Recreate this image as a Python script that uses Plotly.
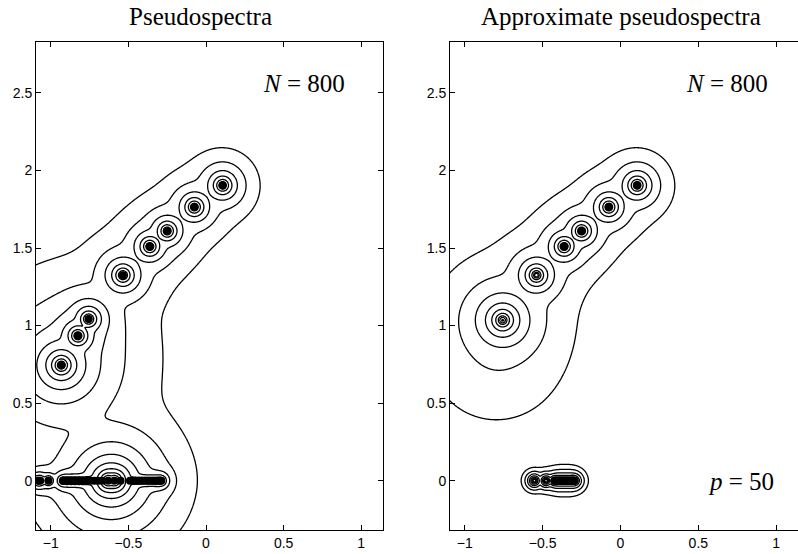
import numpy as np
import plotly.graph_objects as go

# ---------------- data ----------------
# Left panel: eigenvalues of the N=800 matrix (position, conditioning weight, decay power)
upper_re = [0.107, -0.075, -0.250, -0.362, -0.535]
upper_im = [1.904, 1.764, 1.610, 1.510, 1.325]
upper_kappa = [0.95, 0.97, 1.0, 1.0, 1.15]

group_re = [-0.756, -0.825, -0.932]
group_im = [1.042, 0.934, 0.745]
group_kappa = [1.3, 1.6, 2.5]

real_left = [-1.082, -1.068, -1.015,
             -0.920, -0.895, -0.870, -0.845, -0.820, -0.795, -0.770, -0.745, -0.720, -0.695,
             -0.670, -0.630, -0.590, -0.550,
             -0.490, -0.470, -0.452, -0.434, -0.416, -0.398, -0.380, -0.362, -0.345,
             -0.328, -0.312, -0.298, -0.288]
real_left_kappa = [0.5, 0.5, 0.5,
                   0.6, 0.6, 0.6, 0.6, 0.6, 0.6, 0.6, 0.6, 0.6, 0.6,
                   0.6, 1.7, 1.7, 0.6,
                   0.5, 0.5, 0.5, 0.5, 0.5, 0.5, 0.5, 0.5, 0.5,
                   0.5, 0.5, 0.5, 0.5]
real_left_power = [1.0, 1.0, 1.0,
                   1.0, 1.0, 1.0, 1.0, 1.0, 1.0, 1.0, 1.0, 1.0, 1.0,
                   1.0, 1.2, 1.2, 1.0,
                   1.0, 1.0, 1.0, 1.0, 1.0, 1.0, 1.0, 1.0, 1.0,
                   1.0, 1.0, 1.0, 1.0]

# Right panel: Ritz values (p = 50)
ritz_upper_re = [0.107, -0.075, -0.250, -0.362, -0.540]
ritz_upper_im = [1.904, 1.764, 1.610, 1.510, 1.325]
ritz_upper_kappa = [0.95, 0.97, 1.0, 1.0, 1.15]
ritz_upper_dot = [True, True, True, True, False]

ritz_group_re = [-0.757]
ritz_group_im = [1.035]
ritz_group_kappa = [1.75]

ritz_real = [-0.553, -0.478, -0.424, -0.410, -0.395, -0.380, -0.365, -0.350,
             -0.335, -0.320, -0.305, -0.296]
ritz_real_kappa = [0.125] * 12
ritz_real_power = [1.4] * 12
ritz_real_dot = [False, False, True, True, True, True, True, True,
                 True, True, True, True]

# soft (core-less) halo of the approximate resolvent below the isolated Ritz value
halo_re = [-0.80]
halo_im = [0.80]
halo_strength = [2.1]
halo_core = [0.35]

# contour levels: log10(epsilon)
level_start, level_end, level_step = -2.0, -0.6, 0.2

x_ticks = [-1, -0.5, 0, 0.5, 1]
x_ticktext = ["\u22121", "\u22120.5", "0", "0.5", "1"]
y_ticks = [0, 0.5, 1, 1.5, 2, 2.5]
y_ticktext = ["0", "0.5", "1", "1.5", "2", "2.5"]

titles = ["Pseudospectra", "Approximate pseudospectra"]

# ---------------- computation ----------------
XR = [-1.095, 1.14]
YR = [-0.318, 2.828]
xs = np.linspace(-1.12, 1.16, 640)
ys = np.linspace(-0.34, 2.85, 900)
X, Y = np.meshgrid(xs, ys)
Q_BETWEEN = 6.0


def cluster(res, ims, kappas, powers, q):
    acc = np.zeros_like(X)
    for r, i, k, a in zip(res, ims, kappas, powers):
        d = np.maximum(np.hypot(X - r, Y - i), 1e-5)
        acc += (k / d ** a) ** q
    return acc ** (1.0 / q)


def halo(res, ims, strengths, cores):
    acc = np.zeros_like(X)
    for r, i, v, s in zip(res, ims, strengths, cores):
        d = np.sqrt((X - r) ** 2 + (Y - i) ** 2 + s * s)
        acc += (v / d) ** Q_BETWEEN
    return acc ** (1.0 / Q_BETWEEN)


def combine(parts):
    acc = np.zeros_like(X)
    for p in parts:
        acc += p ** Q_BETWEEN
    return -np.log10(acc ** (1.0 / Q_BETWEEN))


L_left = combine([
    cluster(upper_re, upper_im, upper_kappa, [1.0] * len(upper_re), 5.0),
    cluster(group_re, group_im, group_kappa, [1.0] * len(group_re), 6.0),
    cluster(real_left, [0.0] * len(real_left), real_left_kappa, real_left_power, 6.0),
])
L_right = combine([
    cluster(ritz_upper_re, ritz_upper_im, ritz_upper_kappa, [1.0] * len(ritz_upper_re), 5.0),
    cluster(ritz_group_re, ritz_group_im, ritz_group_kappa, [1.0], 6.0),
    cluster(ritz_real, [0.0] * len(ritz_real), ritz_real_kappa, ritz_real_power, 6.0),
    halo(halo_re, halo_im, halo_strength, halo_core),
])

fig = go.Figure()
black = [[0, "black"], [1, "black"]]
for L, xa, ya in [(L_left, "x", "y"), (L_right, "x2", "y2")]:
    fig.add_trace(go.Contour(
        x=xs, y=ys, z=L, xaxis=xa, yaxis=ya,
        contours=dict(start=level_start, end=level_end, size=level_step, coloring="lines"),
        colorscale=black, showscale=False, line=dict(width=1.3, smoothing=1.0),
        hoverinfo="skip"))

# eigenvalue dots, left
fig.add_trace(go.Scatter(x=upper_re + group_re, y=upper_im + group_im, mode="markers",
                         marker=dict(color="black", size=8), xaxis="x", yaxis="y",
                         hoverinfo="skip"))
fig.add_trace(go.Scatter(x=real_left, y=[0.0] * len(real_left), mode="markers",
                         marker=dict(color="black", size=8), xaxis="x", yaxis="y",
                         hoverinfo="skip"))
# Ritz dots, right
rx = [x for x, d in zip(ritz_upper_re, ritz_upper_dot) if d]
ry = [y for y, d in zip(ritz_upper_im, ritz_upper_dot) if d]
fig.add_trace(go.Scatter(x=rx, y=ry, mode="markers", marker=dict(color="black", size=8),
                         xaxis="x2", yaxis="y2", hoverinfo="skip"))
fig.add_trace(go.Scatter(x=ritz_group_re, y=ritz_group_im, mode="markers",
                         marker=dict(color="black", size=3), xaxis="x2", yaxis="y2",
                         hoverinfo="skip"))
rrx = [x for x, d in zip(ritz_real, ritz_real_dot) if d]
fig.add_trace(go.Scatter(x=rrx, y=[0.0] * len(rrx), mode="markers",
                         marker=dict(color="black", size=8), xaxis="x2", yaxis="y2",
                         hoverinfo="skip"))

W, H = 798, 554
tickfont = dict(family="Liberation Sans, Arial, sans-serif", size=14, color="black")
common_x = dict(range=XR, tickvals=x_ticks, ticktext=x_ticktext, ticks="inside", ticklen=5,
                tickcolor="black", showline=True, linecolor="black", linewidth=1,
                showgrid=False, zeroline=False, tickfont=tickfont, mirror="ticks")
common_y = dict(range=YR, tickvals=y_ticks, ticktext=y_ticktext, ticks="inside", ticklen=5,
                tickcolor="black", showline=True, linecolor="black", linewidth=1,
                showgrid=False, zeroline=False, tickfont=tickfont)

d1 = [36 / W, 383 / W]
d2 = [450 / W, 1.0]
dy = [1 - 530 / H, 1 - 42 / H]

fig.update_layout(
    width=W, height=H, margin=dict(l=0, r=0, t=0, b=0),
    paper_bgcolor="white", plot_bgcolor="white", showlegend=False,
    xaxis=dict(domain=d1, anchor="y", **common_x),
    yaxis=dict(domain=dy, anchor="x", mirror="ticks", **common_y),
    xaxis2=dict(domain=d2, anchor="y2", **common_x),
    yaxis2=dict(domain=dy, anchor="x2", **common_y),
    yaxis3=dict(overlaying="y2", anchor="x2", side="right", range=YR, tickvals=y_ticks,
                ticks="inside", ticklen=5, tickcolor="black", showticklabels=False,
                showline=False, showgrid=False, zeroline=False),
)

serif = "Liberation Serif, Times New Roman, serif"
ann = []
ann.append(dict(text=titles[0], x=200 / W, y=1 - 17 / H, xref="paper", yref="paper",
                xanchor="center", yanchor="middle", showarrow=False,
                font=dict(family=serif, size=25, color="black")))
ann.append(dict(text=titles[1], x=621 / W, y=1 - 17 / H, xref="paper", yref="paper",
                xanchor="center", yanchor="middle", showarrow=False,
                font=dict(family=serif, size=25, color="black")))
ann.append(dict(text="<i>N</i> = 800", x=347 / W, y=1 - 84 / H, xref="paper",
                yref="paper", xanchor="right", yanchor="middle", showarrow=False,
                font=dict(family=serif, size=25, color="black")))
ann.append(dict(text="<i>N</i> = 800", x=770 / W, y=1 - 84 / H, xref="paper",
                yref="paper", xanchor="right", yanchor="middle", showarrow=False,
                font=dict(family=serif, size=25, color="black")))
ann.append(dict(text="<i>p</i> = 50", x=776 / W, y=1 - 481 / H, xref="paper",
                yref="paper", xanchor="right", yanchor="middle", showarrow=False,
                font=dict(family=serif, size=25, color="black")))
fig.update_layout(annotations=ann)

fig.write_html("out.html")
